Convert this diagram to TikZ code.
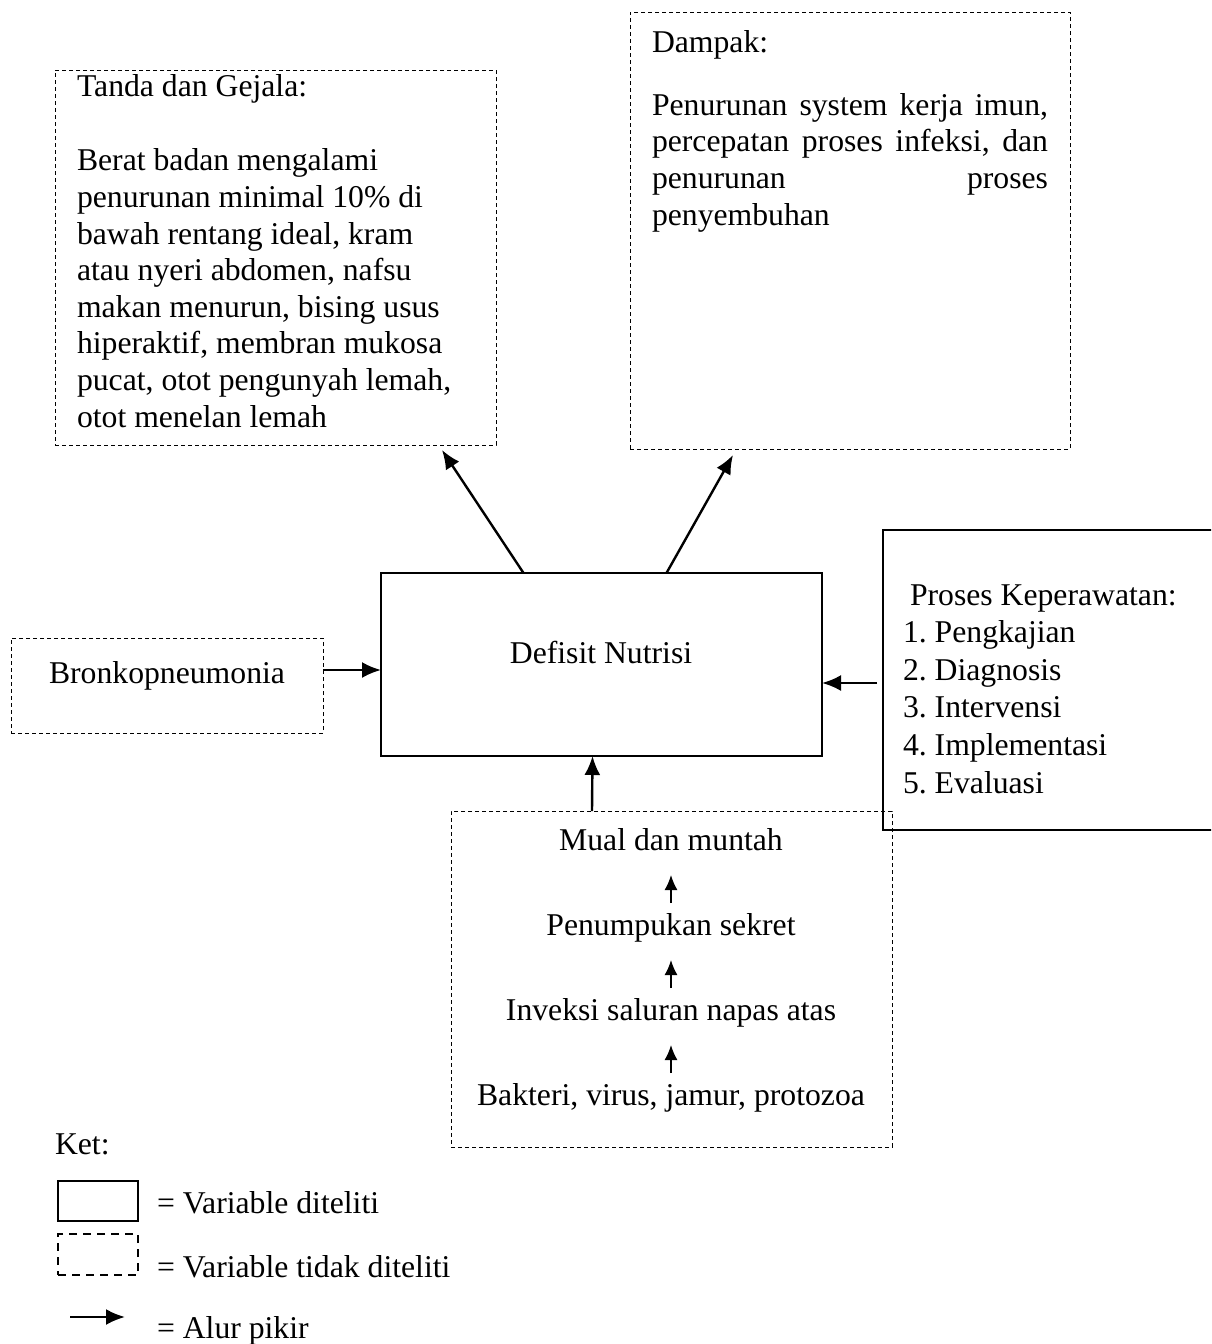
\documentclass[tikz,border=0pt]{standalone}
\usepackage{fontspec}
\setmainfont{Liberation Serif}
\usetikzlibrary{arrows.meta}
\frenchspacing
\begin{document}
\begin{tikzpicture}[x=1pt,y=-1pt,
  every node/.style={inner sep=0pt, outer sep=0pt, font=\fontsize{31.7}{36.6}\selectfont},
  dbox/.style={draw, dash pattern=on 4pt off 3pt, line width=1pt, anchor=north west},
  sbox/.style={draw, line width=1.3pt, anchor=north west},
  arr/.style={line width=2.4pt, -{Latex[length=19pt,width=16pt]}},
  sarr/.style={line width=1.6pt, -{Latex[length=15pt,width=13pt]}},
  txt/.style={anchor=base west, align=left},
  ctxt/.style={anchor=base, text height=22pt, text depth=7pt}
]
\useasboundingbox (0,0) rectangle (1211,1344);
\clip (0,0) rectangle (1211,1344);

% boxes
\node[dbox, minimum width=441pt, minimum height=375pt] (tanda) at (55,70) {};
\node[dbox, minimum width=440pt, minimum height=437pt] (dampak) at (630,12) {};
\node[sbox, minimum width=441pt, minimum height=183pt] (defisit) at (381,573) {};
\node[dbox, minimum width=312pt, minimum height=95pt] (bronko) at (11,638) {};
\node[sbox, minimum width=345pt, minimum height=300pt] (proses) at (883,530) {};
\node[dbox, minimum width=441pt, minimum height=336pt] (cause) at (451,811) {};

% texts (base anchor = baseline of last line)
\node[txt] (tandatxt) at (77,427) {Tanda dan Gejala:\\[37.4pt]
Berat badan mengalami\\
penurunan minimal 10\% di\\
bawah rentang ideal, kram\\
atau nyeri abdomen, nafsu\\
makan menurun, bising usus\\
hiperaktif, membran mukosa\\
pucat, otot pengunyah lemah,\\
otot menelan lemah};

\node[txt] (dampaktxt) at (652,225) {Dampak:\\[26.4pt]
\makebox[396pt][s]{Penurunan system kerja imun,}\\
\makebox[396pt][s]{percepatan proses infeksi, dan}\\
\makebox[396pt][s]{penurunan proses}\\
penyembuhan};

\node[anchor=base] (defisittxt) at (601,663) {Defisit Nutrisi};
\node[anchor=base] (bronkotxt) at (167,683) {Bronkopneumonia};

\node[txt, font=\fontsize{31.7}{37.6}\selectfont] (prosestxt) at (903,793) {\hspace*{7pt}Proses Keperawatan:\\
1. Pengkajian\\
2. Diagnosis\\
3. Intervensi\\
4. Implementasi\\
5. Evaluasi};

\node[ctxt] (mual) at (671,850) {Mual dan muntah};
\node[ctxt] (sekret) at (671,935) {Penumpukan sekret};
\node[ctxt] (inveksi) at (671,1020) {Inveksi saluran napas atas};
\node[ctxt] (bakteri) at (671,1105) {Bakteri, virus, jamur, protozoa};

% small arrows inside cause box
\draw[sarr, shorten <=10pt, shorten >=18pt] (sekret.north) -- (mual.south);
\draw[sarr, shorten <=10pt, shorten >=18pt] (inveksi.north) -- (sekret.south);
\draw[sarr, shorten <=10pt, shorten >=18pt] (bakteri.north) -- (inveksi.south);

% main arrows
\draw[arr] ([yshift=15.5pt]bronko.east) -- ([yshift=-5.5pt]defisit.west);
\draw[arr, shorten <=6pt] ([yshift=-3pt]proses.west) -- ([yshift=-18.5pt]defisit.east);
\draw[arr] ([xshift=-79.5pt]cause.north) -- ([xshift=-9pt]defisit.south);
\draw[arr] ([xshift=-78pt]defisit.north) -- ([xshift=166.5pt,yshift=-5pt]tanda.south);
\draw[arr] ([xshift=65pt]defisit.north) -- ([xshift=-117pt,yshift=-6pt]dampak.south);

% legend
\node[anchor=base west] (ket) at (55,1154) {Ket:};
\node[sbox, minimum width=80pt, minimum height=40pt] (lsolid) at (58,1181) {};
\node[draw, line width=2pt, dash pattern=on 8pt off 6pt, anchor=north west, minimum width=80pt, minimum height=41pt] (ldash) at (58,1234) {};
\node[anchor=base west] (l1) at (157,1213) {= Variable diteliti};
\node[anchor=base west] (l2) at (157,1277) {= Variable tidak diteliti};
\node[anchor=base west] (l3) at (157,1338) {= Alur pikir};
\coordinate (la) at (70,1317);
\coordinate (lb) at (125,1317);
\draw[arr] (la) -- (lb);
\end{tikzpicture}
\end{document}
